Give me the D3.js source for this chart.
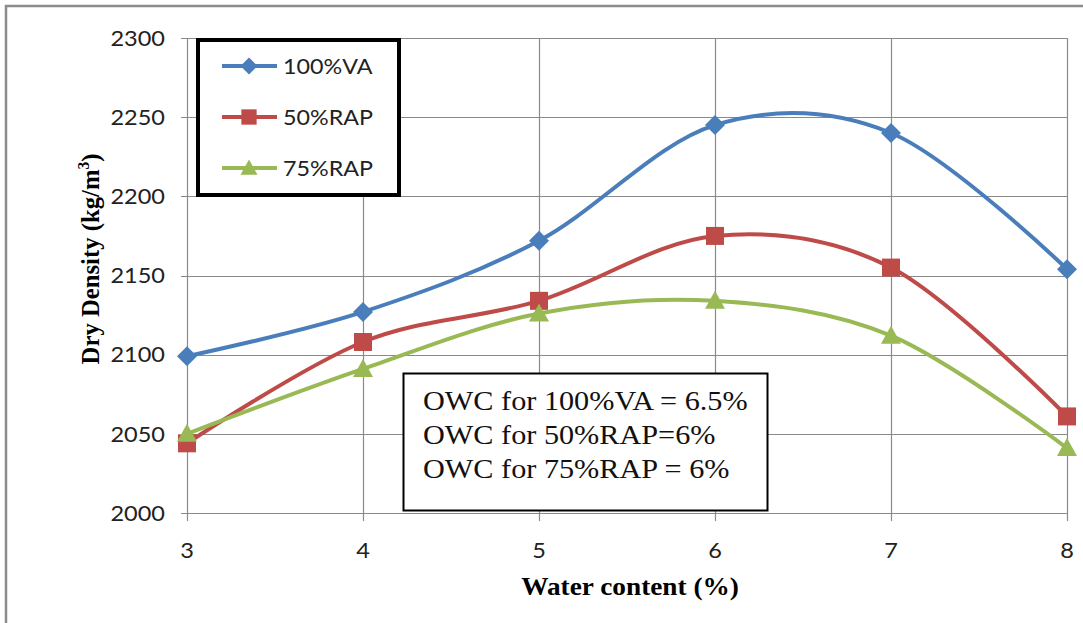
<!DOCTYPE html>
<html>
<head>
<meta charset="utf-8">
<script src="https://cdn.jsdelivr.net/npm/d3@7"></script>
<style>
  body { margin: 0; background: #fff; }
  svg { display: block; }
</style>
</head>
<body>
<script>
// water content (%)
const waterContent = [3, 4, 5, 6, 7, 8];

// dry density (kg/m3) per mix
const va100 = [2099, 2127, 2172, 2245, 2240, 2154];
const rap50 = [2044, 2108, 2134, 2175, 2155, 2061];
const rap75 = [2050, 2091, 2126, 2134, 2112, 2041];

const seriesNames = ["100%VA", "50%RAP", "75%RAP"];
const yTicks = [2000, 2050, 2100, 2150, 2200, 2250, 2300];
const xTicks = [3, 4, 5, 6, 7, 8];
const notes = ["OWC for 100%VA = 6.5%", "OWC for 50%RAP=6%", "OWC for 75%RAP = 6%"];

const W = 1083, H = 623;
let margin = { top: 38, right: 14, bottom: 110, left: 187 };
let width = W - margin.left - margin.right;
let height = H - margin.top - margin.bottom;

const colors = ["#4a7ebb", "#be4b48", "#98b954"];

// excel-like markers: diamond, square, triangle
const markerPaths = [
  "M0,-10L10,0L0,10L-10,0Z",
  "M-9,-9H9V9H-9Z",
  "M0,-10L10,8H-10Z"
];

const sans = "Lato, 'Open Sans', sans-serif";
const serif = "'Liberation Serif', 'Times New Roman', serif";

let series = [va100, rap50, rap75].map(function (vals, i) {
  return { name: seriesNames[i], values: vals.map(function (v, j) { return { x: waterContent[j], y: v }; }) };
});

let svg = d3.select("body").append("svg")
  .attr("width", W).attr("height", H);

// outer chart frame (only top and left visible in crop)
svg.append("path")
  .attr("d", "M6," + H + "V6H" + W)
  .attr("fill", "none").attr("stroke", "#8c8c8c").attr("stroke-width", 2.5);

let g = svg.append("g")
  .attr("transform", "translate(" + margin.left + "," + margin.top + ")");

let x = d3.scaleLinear().domain([3, 8]).range([0, width - 2]);
let y = d3.scaleLinear().domain([2000, 2300]).range([height, 0]);

// gridlines
g.append("g").selectAll("line").data(yTicks).join("line")
  .attr("x1", -6).attr("x2", x(8))
  .attr("y1", d => Math.round(y(d)) + 0.5).attr("y2", d => Math.round(y(d)) + 0.5)
  .attr("stroke", "#8a8a8a").attr("stroke-width", 1.2);

g.append("g").selectAll("line").data(xTicks).join("line")
  .attr("x1", d => Math.round(x(d)) + 0.5).attr("x2", d => Math.round(x(d)) + 0.5)
  .attr("y1", 0).attr("y2", height + 8)
  .attr("stroke", "#8a8a8a").attr("stroke-width", 1.2);

// tick labels
g.append("g").selectAll("text").data(yTicks).join("text")
  .attr("transform", d => "translate(-22," + y(d) + ") scale(1.07,1)")
  .attr("dy", "0.35em")
  .attr("text-anchor", "end")
  .attr("font-family", sans)
  .attr("font-size", 22).attr("fill", "#222")
  .text(d => d);

g.append("g").selectAll("text").data(xTicks).join("text")
  .attr("transform", d => "translate(" + x(d) + "," + (height + 45) + ") scale(1.07,1)")
  .attr("text-anchor", "middle")
  .attr("font-family", sans)
  .attr("font-size", 22).attr("fill", "#222")
  .text(d => d);

// axis titles
svg.append("text")
  .attr("transform", "translate(630,595) scale(1.05,1)")
  .attr("text-anchor", "middle")
  .attr("font-family", serif)
  .attr("font-weight", "bold").attr("font-size", 26)
  .text("Water content (%)");

let yt = svg.append("text")
  .attr("transform", "translate(99,259) rotate(-90) scale(1.03,1.08)")
  .attr("text-anchor", "middle")
  .attr("font-family", serif)
  .attr("font-weight", "bold").attr("font-size", 24);
yt.append("tspan").text("Dry Density (kg/m");
yt.append("tspan").attr("dy", -9).attr("font-size", 15).text("3");
yt.append("tspan").attr("dy", 9).text(")");

// series lines
let line = d3.line()
  .x(d => x(d.x))
  .y(d => y(d.y))
  .curve(d3.curveCardinal.tension(0));

series.forEach(function (s, i) {
  g.append("path")
    .datum(s.values)
    .attr("fill", "none")
    .attr("stroke", colors[i])
    .attr("stroke-width", 4)
    .attr("d", line);
});

series.forEach(function (s, i) {
  g.append("g").selectAll("path").data(s.values).join("path")
    .attr("transform", d => "translate(" + x(d.x) + "," + y(d.y) + ")")
    .attr("d", markerPaths[i])
    .attr("fill", colors[i]);
});

// legend
let legend = svg.append("g");
legend.append("rect")
  .attr("x", 198).attr("y", 40).attr("width", 201).attr("height", 155)
  .attr("fill", "#fff").attr("stroke", "#000").attr("stroke-width", 4);

seriesNames.forEach(function (name, i) {
  let ly = 66 + i * 51;
  legend.append("line")
    .attr("x1", 222).attr("x2", 277).attr("y1", ly).attr("y2", ly)
    .attr("stroke", colors[i]).attr("stroke-width", 4);
  legend.append("path")
    .attr("transform", "translate(249," + ly + ") scale(0.85)")
    .attr("d", markerPaths[i])
    .attr("fill", colors[i]);
  legend.append("text")
    .attr("transform", "translate(283," + ly + ") scale(1.06,1)")
    .attr("dy", "0.35em")
    .attr("font-family", sans)
    .attr("font-size", 22).attr("fill", "#222")
    .text(name);
});

// OWC note box
let note = svg.append("g");
note.append("rect")
  .attr("x", 403.5).attr("y", 373.5).attr("width", 364).attr("height", 137)
  .attr("fill", "#fff").attr("stroke", "#000").attr("stroke-width", 2);
notes.forEach(function (t, i) {
  note.append("text")
    .attr("transform", "translate(423," + (410 + i * 34) + ") scale(1.12,1)")
    .attr("font-family", serif)
    .attr("font-size", 27).attr("fill", "#111")
    .text(t);
});
</script>
</body>
</html>
